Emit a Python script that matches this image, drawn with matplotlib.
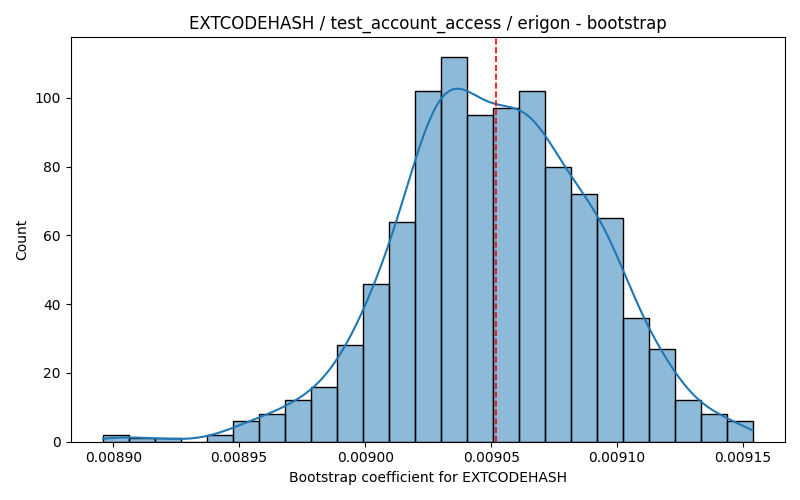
import numpy as np
import matplotlib
matplotlib.use("Agg")
import matplotlib.pyplot as plt
import seaborn as sns

# histogram (1000 bootstrap samples)
bin_start = 0.0088960
bin_width = 0.00001031
counts = [2, 1, 1, 0, 2, 6, 8, 12, 16, 28, 46, 64, 102, 112,
          95, 97, 102, 80, 72, 65, 36, 27, 12, 8, 6]
mean_value = 0.0090518

title = "EXTCODEHASH / test_account_access / erigon - bootstrap"
xlabel = "Bootstrap coefficient for EXTCODEHASH"

edges = bin_start + bin_width * np.arange(len(counts) + 1)
centers = (edges[:-1] + edges[1:]) / 2
samples = np.repeat(centers, counts)

# extend kde support by half a bin so it spans the bars like the original
bw = samples.std(ddof=1) * len(samples) ** -0.2
cut = 0.5 * bin_width / bw

fig, ax = plt.subplots(figsize=(8, 5), dpi=100)
sns.histplot(x=samples, bins=edges, kde=True, ax=ax, kde_kws={"cut": cut})
ax.axvline(mean_value, color="red", linestyle="--", linewidth=1.2)
ax.set_title(title)
ax.set_xlabel(xlabel)
ax.set_ylabel("Count")
plt.tight_layout()
plt.savefig("out.png")
